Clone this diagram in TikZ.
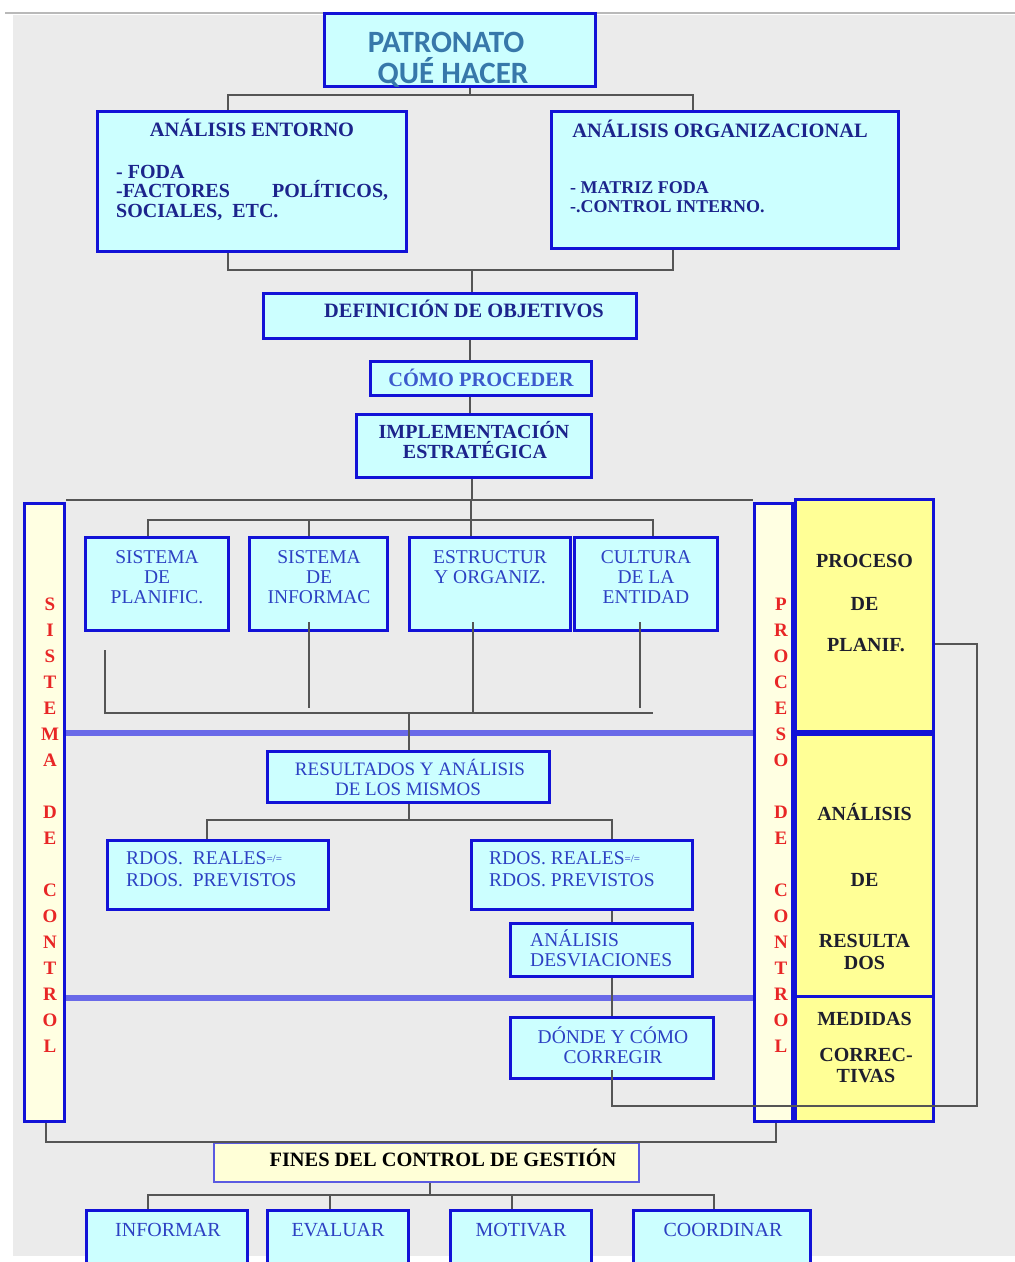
\documentclass[tikz,border=0pt]{standalone}
\usepackage{fontspec}
\setmainfont{Liberation Serif}
\newfontfamily\headfont{Carlito}
\definecolor{bg}{RGB}{235,235,235}
\definecolor{boxblue}{RGB}{18,18,215}
\definecolor{boxcyan}{RGB}{204,255,255}
\definecolor{navy}{RGB}{28,36,140}
\definecolor{midblue}{RGB}{45,65,195}
\definecolor{lightblue}{RGB}{60,90,205}
\definecolor{steel}{RGB}{55,120,170}
\definecolor{linegray}{RGB}{85,85,85}
\definecolor{band}{RGB}{105,105,232}
\definecolor{paleyellow}{RGB}{255,255,226}
\definecolor{yellowbox}{RGB}{255,255,150}
\definecolor{redtext}{RGB}{232,38,38}
\definecolor{darktext}{RGB}{30,30,45}
\definecolor{finesyellow}{RGB}{255,255,215}
\definecolor{finesblue}{RGB}{90,90,225}
\begin{document}
\begin{tikzpicture}[x=1pt,y=-1pt,
  box/.style={draw=boxblue,line width=3pt,fill=boxcyan,inner sep=0pt},
  colbox/.style={draw=boxblue,line width=3pt,fill=paleyellow,inner sep=0pt},
  ybox/.style={draw=boxblue,line width=3pt,fill=yellowbox,inner sep=0pt},
  finesbox/.style={draw=finesblue,line width=2pt,fill=finesyellow,inner sep=0pt},
  conn/.style={draw=linegray,line width=2pt},
  bandline/.style={draw=band,line width=6pt},
  head/.style={inner sep=0pt,text=steel,font=\headfont\bfseries\fontsize{31}{31}\selectfont},
  ttl/.style={inner sep=0pt,text=navy,font=\bfseries\fontsize{20.4}{20}\selectfont},
  bul/.style={inner sep=0pt,text=navy,font=\bfseries\fontsize{20}{20}\selectfont},
  bulsm/.style={inner sep=0pt,text=navy,font=\bfseries\fontsize{18}{18}\selectfont},
  reg/.style={inner sep=0pt,text=midblue,font=\fontsize{19.5}{20}\selectfont},
  ytxt/.style={inner sep=0pt,text=darktext,font=\bfseries\fontsize{20}{20}\selectfont},
  redcol/.style={inner sep=0pt,text=redtext,align=center,font=\bfseries\fontsize{19}{26}\selectfont}]

\useasboundingbox (0,0) rectangle (1015,1262);
\clip (0,0) rectangle (1015,1262);

% page background
\fill[bg] (13,15) rectangle (1015,1256);
\draw[gray!55,line width=2pt] (5,13) -- (1015,13);

% ---------- boxes ----------
\node[box,minimum width=271,minimum height=73] (pat) at (460,50) {};
\node[box,minimum width=309,minimum height=140] (ent) at (252,181.5) {};
\node[box,minimum width=347,minimum height=137] (org) at (725,180) {};
\node[box,minimum width=373,minimum height=45] (def) at (450,316) {};
\node[box,minimum width=221,minimum height=34] (como) at (481,378.5) {};
\node[box,minimum width=235,minimum height=63] (impl) at (474,446) {};

% ---------- connectors, upper part ----------
\coordinate (j1) at (470,95);
\coordinate (j2) at (472,270);
\draw[conn] (pat.south -| j1) -- (j1);
\draw[conn] (ent.north -| 228,0) |- (j1) -| (org.north -| 693,0);
\draw[conn] (ent.south -| 228,0) |- (j2) -| (org.south -| 673,0);
\draw[conn] (j2) -- (def.north -| j2);
\draw[conn] (def.south -| 470,0) -- (como.north -| 470,0);
\draw[conn] (como.south -| 470,0) -- (impl.north -| 470,0);

% side columns
\node[colbox,minimum width=40,minimum height=618] (lcol) at (44.5,812.5) {};
\node[colbox,minimum width=38,minimum height=618] (rcol) at (773.5,812.5) {};

\coordinate (j3) at (472,500);
\coordinate (j4) at (471,520);
\draw[conn] (impl.south -| j3) -- (j3);
\draw[conn] (lcol.north east) ++(0,-2) -- (rcol.north west |- j3);
\draw[conn] (j3 -| j4) -- (j4);

% row of four boxes
\node[box,minimum width=143,minimum height=93] (b1) at (157,584) {};
\node[box,minimum width=138,minimum height=93] (b2) at (318.5,584) {};
\node[box,minimum width=161,minimum height=93] (b3) at (490,584) {};
\node[box,minimum width=143,minimum height=93] (b4) at (645.5,584) {};
\draw[conn] (b1.north -| 148,0) |- (j4) -| (b4.north -| 653,0);
\draw[conn] (b2.north -| 309,0) -- (309,520);
\draw[conn] (j4) -- (b3.north -| j4);

% lower tree of the row
\coordinate (j5) at (409,713);
\coordinate (f1) at (105,650);
\draw[conn] (f1) |- (j5) -- (653,713);
\draw[conn] ([yshift=10pt]b2.south -| 309,0) -- (309,708);
\draw[conn] ([yshift=10pt]b3.south -| 473,0) -- (473,713);
\draw[conn] ([yshift=10pt]b4.south -| 640,0) -- (640,708);

% blue bands
\draw[bandline] (lcol.east |- 0,733) -- (rcol.west |- 0,733);
\draw[bandline] (lcol.east |- 0,998) -- (rcol.west |- 0,998);

% results block
\node[box,minimum width=282,minimum height=51] (res) at (408.5,777) {};
\draw[conn] (j5) -- (res.north -| j5);
\node[box,minimum width=221,minimum height=69] (rl) at (218,875) {};
\node[box,minimum width=221,minimum height=69] (rr) at (582,875) {};
\node[box,minimum width=182,minimum height=53] (desv) at (601.5,950) {};
\node[box,minimum width=203,minimum height=61] (donde) at (612,1048) {};
\coordinate (j6) at (409,820);
\draw[conn] (res.south -| j6) -- (j6);
\draw[conn] (rl.north -| 207,0) |- (j6) -| (rr.north -| 612,0);
\draw[conn] (rr.south -| 612,0) -- (desv.north -| 612,0);
\draw[conn] (desv.south -| 612,0) -- (donde.north -| 612,0);

% right-hand yellow blocks
\node[ybox,minimum width=138,minimum height=232] (yplan) at (864.5,615.5) {};
\node[ybox,minimum width=138,minimum height=262] (yanal) at (864.5,865.5) {};
\node[ybox,minimum width=138,minimum height=125] (ymed) at (864.5,1059) {};

% feedback loop
\coordinate (k1) at (612,1106);
\coordinate (k2) at (977,644);
\draw[conn] ([yshift=10pt]donde.south) -- (k1) -| (k2) -- (yplan.east |- k2);

% bottom part
\node[finesbox,minimum width=425,minimum height=39] (fines) at (426.5,1162.5) {};
\draw[conn] (lcol.south -| 46,0) |- (fines.north) -| (rcol.south -| 776,0);
\node[box,minimum width=161,minimum height=60] (inf) at (167,1240) {};
\node[box,minimum width=141,minimum height=60] (eva) at (338,1240) {};
\node[box,minimum width=141,minimum height=60] (mot) at (521,1240) {};
\node[box,minimum width=177,minimum height=60] (coo) at (722,1240) {};
\coordinate (j7) at (430,1195);
\draw[conn] (fines.south -| j7) -- (j7);
\draw[conn] (inf.north -| 148,0) |- (j7) -| (coo.north -| 714,0);
\draw[conn] (eva.north -| 330,0) -- (330,1195);
\draw[conn] (mot.north -| 512,0) -- (512,1195);

% ---------- texts ----------
\node[head,anchor=base] (t-pat1) at (446,52) {PATRONATO};
\node[head,anchor=base] (t-pat2) at (453,83) {QUÉ\hspace{7pt}HACER};

\node[ttl,anchor=base] (t-ent) at (252,136.7) {ANÁLISIS ENTORNO};
\node[bul,anchor=base west] (t-ent1) at (116,178) {- FODA};
\node[bul,anchor=base west] (t-ent2) at (116,197.5) {\makebox[272pt][s]{-FACTORES POLÍTICOS,}};
\node[bul,anchor=base west] (t-ent3) at (116,217.5) {SOCIALES,~ ETC.};

\node[ttl,anchor=base] (t-org) at (720,137.7) {ANÁLISIS ORGANIZACIONAL};
\node[bulsm,anchor=base west] (t-org1) at (570,193.5) {- MATRIZ FODA};
\node[bulsm,anchor=base west] (t-org2) at (570,212.5) {-.CONTROL INTERNO.};

\node[ttl,anchor=base] (t-def) at (464,317.7) {DEFINICIÓN DE OBJETIVOS};
\node[ttl,text=lightblue,anchor=base] (t-como) at (481,386.5) {CÓMO PROCEDER};
\node[bul,anchor=base] (t-impl1) at (474,438.6) {IMPLEMENTACIÓN};
\node[bul,anchor=base] (t-impl2) at (475,458.6) {ESTRATÉGICA};

\node[reg,anchor=base] (t-b1a) at (157,563.5) {SISTEMA};
\node[reg,anchor=base] (t-b1b) at (157,583.5) {DE};
\node[reg,anchor=base] (t-b1c) at (157,603.5) {PLANIFIC.};
\node[reg,anchor=base] (t-b2a) at (319,563.5) {SISTEMA};
\node[reg,anchor=base] (t-b2b) at (319,583.5) {DE};
\node[reg,anchor=base] (t-b2c) at (319,603.5) {INFORMAC};
\node[reg,anchor=base] (t-b3a) at (490,563.5) {ESTRUCTUR};
\node[reg,anchor=base] (t-b3b) at (490,583.5) {Y ORGANIZ.};
\node[reg,anchor=base] (t-b4a) at (646,563.5) {CULTURA};
\node[reg,anchor=base] (t-b4b) at (646,583.5) {DE LA};
\node[reg,anchor=base] (t-b4c) at (646,603.5) {ENTIDAD};

\node[reg,font=\fontsize{19}{19}\selectfont,anchor=base] (t-res1) at (410,775) {RESULTADOS Y ANÁLISIS};
\node[reg,font=\fontsize{19}{19}\selectfont,anchor=base] (t-res2) at (408,795) {DE LOS MISMOS};

\node[reg,anchor=base west] (t-rl1) at (126,864.5) {RDOS.~~REALES\raisebox{2pt}{\fontsize{11}{11}\selectfont =/=}};
\node[reg,anchor=base west] (t-rl2) at (126,886.5) {RDOS.~~PREVISTOS};
\node[reg,anchor=base west] (t-rr1) at (489,864.5) {RDOS. REALES\raisebox{2pt}{\fontsize{11}{11}\selectfont =/=}};
\node[reg,anchor=base west] (t-rr2) at (489,886.5) {RDOS. PREVISTOS};

\node[reg,anchor=base west] (t-desv1) at (530,946.5) {ANÁLISIS};
\node[reg,anchor=base west] (t-desv2) at (530,966.5) {DESVIACIONES};

\node[reg,anchor=base] (t-don1) at (613,1043.5) {DÓNDE Y CÓMO};
\node[reg,anchor=base] (t-don2) at (613,1063.5) {CORREGIR};

\node[ytxt,anchor=base] (t-y1) at (864.5,567.6) {PROCESO};
\node[ytxt,anchor=base] (t-y2) at (864.5,610.6) {DE};
\node[ytxt,anchor=base] (t-y3) at (866,651.6) {PLANIF.};
\node[ytxt,anchor=base] (t-y4) at (864.5,820.6) {ANÁLISIS};
\node[ytxt,anchor=base] (t-y5) at (864.5,886.6) {DE};
\node[ytxt,anchor=base] (t-y6) at (864.5,947.6) {RESULTA};
\node[ytxt,anchor=base] (t-y7) at (864.5,969.6) {DOS};
\node[ytxt,anchor=base] (t-y8) at (864.5,1025.6) {MEDIDAS};
\node[ytxt,anchor=base] (t-y9) at (866,1061.6) {CORREC-};
\node[ytxt,anchor=base] (t-y10) at (866,1082.6) {TIVAS};

\node[redcol] (t-lcol) at (50,825) {S\\I\\S\\T\\E\\M\\A\\[26pt]D\\E\\[26pt]C\\O\\N\\T\\R\\O\\L};
\node[redcol] (t-rcol) at (781,825) {P\\R\\O\\C\\E\\S\\O\\[26pt]D\\E\\[26pt]C\\O\\N\\T\\R\\O\\L};

\node[ttl,text=black,anchor=base] (t-fines) at (443,1166.7) {FINES DEL CONTROL DE GESTIÓN};

\node[reg,font=\fontsize{20}{20}\selectfont,anchor=base] (t-inf) at (168,1236.6) {INFORMAR};
\node[reg,font=\fontsize{20}{20}\selectfont,anchor=base] (t-eva) at (338,1236.6) {EVALUAR};
\node[reg,font=\fontsize{20}{20}\selectfont,anchor=base] (t-mot) at (521,1236.6) {MOTIVAR};
\node[reg,font=\fontsize{20}{20}\selectfont,anchor=base] (t-coo) at (723,1236.6) {COORDINAR};
\end{tikzpicture}
\end{document}
